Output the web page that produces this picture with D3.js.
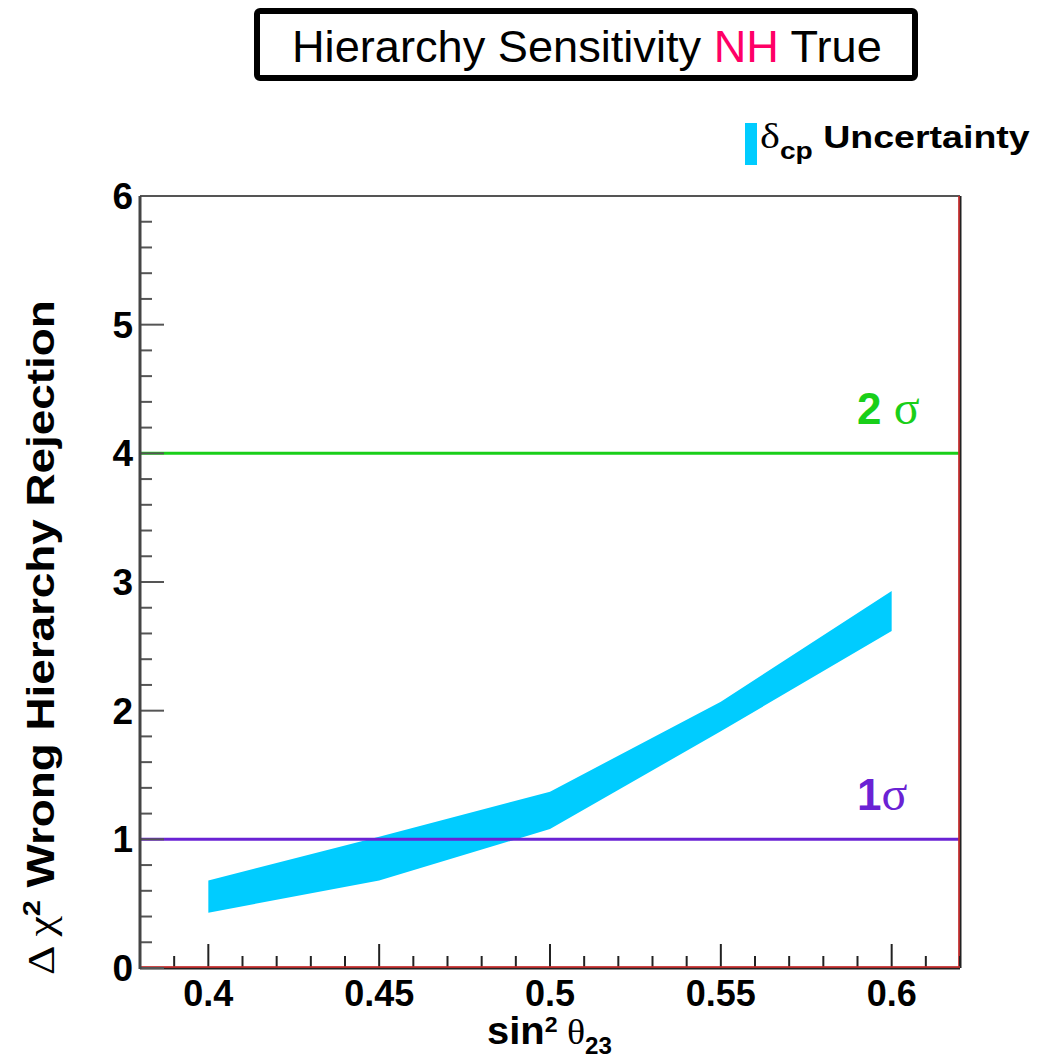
<!DOCTYPE html>
<html>
<head>
<meta charset="utf-8">
<script src="https://cdn.jsdelivr.net/npm/d3@7"></script>
<style>
  body { margin: 0; background: #fff; }
  svg { display: block; }
</style>
</head>
<body>
<div class="container"></div>
<script>
// band of delta chi2 over the delta_cp range
const sin2 = [0.4, 0.45, 0.5, 0.55, 0.6]
const chiUpper = [0.68, 1.02, 1.37, 2.07, 2.93]
const chiLower = [0.43, 0.68, 1.08, 1.84, 2.62]

const sigmaLevels = [1, 4]
const sigmaLabels = ["1", "2 "]
const xTicks = [0.4, 0.45, 0.5, 0.55, 0.6]
const yTicks = [0, 1, 2, 3, 4, 5, 6]

const width = 1049
const height = 1061
const m = { left: 140, right: 960, top: 196, bottom: 968 }

const x = d3.scaleLinear().domain([0.38, 0.62]).range([m.left, m.right])
const y = d3.scaleLinear().domain([0, 6]).range([m.bottom, m.top])

const svg = d3.select(".container")
    .append("svg")
    .attr("width", width)
    .attr("height", height)

const sans = "'Liberation Sans', Arial, sans-serif"
const serif = "'Liberation Serif', 'Times New Roman', serif"

// stretch a text horizontally so it spans [x0, x0 + w]
function fitX(t, x0, w) {
    const b = t.node().getBBox()
    const s = w / b.width
    t.attr("transform", `translate(${x0},0) scale(${s},1) translate(${-b.x},0)`)
}

// title box
svg.append("rect")
    .attr("x", 257).attr("y", 11)
    .attr("width", 658).attr("height", 67)
    .attr("rx", 3)
    .attr("fill", "#fff")
    .attr("stroke", "#000")
    .attr("stroke-width", 6)

const title = svg.append("text")
    .attr("x", 292).attr("y", 62)
    .attr("font-family", sans)
    .attr("font-size", 44)
title.append("tspan").text("Hierarchy Sensitivity ")
title.append("tspan").attr("fill", "#ff0066").text("NH")
title.append("tspan").text(" True")
fitX(title, 292, 590)

// legend
svg.append("rect")
    .attr("x", 745).attr("y", 123)
    .attr("width", 12).attr("height", 42)
    .attr("fill", "#00ccff")
const leg = svg.append("text")
    .attr("x", 760).attr("y", 148)
    .attr("font-family", sans)
    .attr("font-weight", "bold")
    .attr("font-size", 32)
leg.append("tspan").attr("font-family", serif).attr("font-weight", "normal").attr("font-size", 36).text("δ")
leg.append("tspan").attr("font-size", 24).attr("dy", 11).text("cp")
leg.append("tspan").attr("dy", -11).text(" Uncertainty")
fitX(leg, 760, 270)

// band
const area = d3.area()
    .x((d, i) => x(sin2[i]))
    .y0((d, i) => y(chiLower[i]))
    .y1((d, i) => y(chiUpper[i]))

svg.append("path")
    .datum(sin2)
    .attr("d", area)
    .attr("fill", "#00ccff")

// sigma lines
const sigmaColors = ["#6a22d4", "#19cf19"]
svg.append("g")
    .selectAll("line")
    .data(sigmaLevels)
    .join("line")
    .attr("x1", m.left).attr("x2", m.right)
    .attr("y1", d => y(d)).attr("y2", d => y(d))
    .attr("stroke", (d, i) => sigmaColors[i])
    .attr("stroke-width", 3)

sigmaLevels.forEach((lv, i) => {
    const t = svg.append("text")
        .attr("x", 857).attr("y", y(lv) - 29)
        .attr("fill", sigmaColors[i])
        .attr("font-family", sans)
        .attr("font-weight", "bold")
        .attr("font-size", 44)
    t.append("tspan").text(sigmaLabels[i])
    t.append("tspan").attr("font-family", serif).attr("font-weight", "normal").attr("font-size", 48).text("σ")
})

// frame
svg.append("line")
    .attr("x1", m.left).attr("x2", m.right)
    .attr("y1", m.top).attr("y2", m.top)
    .attr("stroke", "#555").attr("stroke-width", 2)
svg.append("line")
    .attr("x1", m.right).attr("x2", m.right)
    .attr("y1", m.top).attr("y2", m.bottom)
    .attr("stroke", "#222").attr("stroke-width", 3)
svg.append("line")
    .attr("x1", m.right - 1).attr("x2", m.right - 1)
    .attr("y1", m.top).attr("y2", m.bottom)
    .attr("stroke", "#e03030").attr("stroke-width", 1.5)

// x axis
const xAxis = svg.append("g").attr("transform", `translate(0,${m.bottom})`)
xAxis.selectAll("line.minor")
    .data(d3.range(39, 63).map(v => v / 100))
    .join("line")
    .attr("x1", d => x(d)).attr("x2", d => x(d))
    .attr("y1", 0)
    .attr("y2", d => xTicks.some(t => Math.abs(t - d) < 1e-6) ? -24 : -12)
    .attr("stroke", "#222").attr("stroke-width", 2)
xAxis.append("line")
    .attr("x1", m.left).attr("x2", m.right)
    .attr("stroke", "#222").attr("stroke-width", 3)
xAxis.append("line")
    .attr("x1", m.left).attr("x2", m.right)
    .attr("y1", -1).attr("y2", -1)
    .attr("stroke", "#e03030").attr("stroke-width", 1.5)
xAxis.selectAll("text")
    .data(xTicks)
    .join("text")
    .attr("x", d => x(d)).attr("y", 38)
    .attr("text-anchor", "middle")
    .attr("font-family", sans)
    .attr("font-weight", "bold")
    .attr("font-size", 36)
    .text(d => d3.format("")(d))

const xl = svg.append("text")
    .attr("x", 487).attr("y", 1044)
    .attr("font-family", sans)
    .attr("font-weight", "bold")
    .attr("font-size", 38)
xl.append("tspan").text("sin")
xl.append("tspan").attr("font-size", 22).attr("dy", -12).text("2")
xl.append("tspan").attr("font-family", serif).attr("font-weight", "normal").attr("font-size", 36).attr("dy", 12).text(" θ")
xl.append("tspan").attr("font-size", 23).attr("dy", 10).text("23")
fitX(xl, 487, 125)

// y axis
const yAxis = svg.append("g").attr("transform", `translate(${m.left},0)`)
yAxis.selectAll("line.tick")
    .data(d3.range(0, 31).map(v => v / 5))
    .join("line")
    .attr("x1", 0)
    .attr("x2", (d, i) => i % 5 == 0 ? 24 : 12)
    .attr("y1", d => y(d)).attr("y2", d => y(d))
    .attr("stroke", "#555").attr("stroke-width", 2)
yAxis.append("line")
    .attr("y1", m.top).attr("y2", m.bottom + 1)
    .attr("stroke", "#444").attr("stroke-width", 3)
yAxis.selectAll("text")
    .data(yTicks)
    .join("text")
    .attr("x", -7).attr("y", d => y(d) + 13)
    .attr("text-anchor", "end")
    .attr("font-family", sans)
    .attr("font-weight", "bold")
    .attr("font-size", 37)
    .text(d => d)

// y title, rotated then stretched along its length
const ylg = svg.append("g").attr("transform", "translate(54,0) rotate(-90)")
const yl = ylg.append("text")
    .attr("x", 0).attr("y", 0)
    .attr("font-family", sans)
    .attr("font-weight", "bold")
    .attr("font-size", 38)
yl.append("tspan").attr("font-family", serif).attr("font-weight", "normal").attr("font-size", 38).text("Δ χ")
yl.append("tspan").attr("font-size", 24).attr("dy", -14).text("2")
yl.append("tspan").attr("dy", 14).text(" Wrong Hierarchy Rejection")
fitX(yl, -975, 675)
</script>
</body>
</html>
